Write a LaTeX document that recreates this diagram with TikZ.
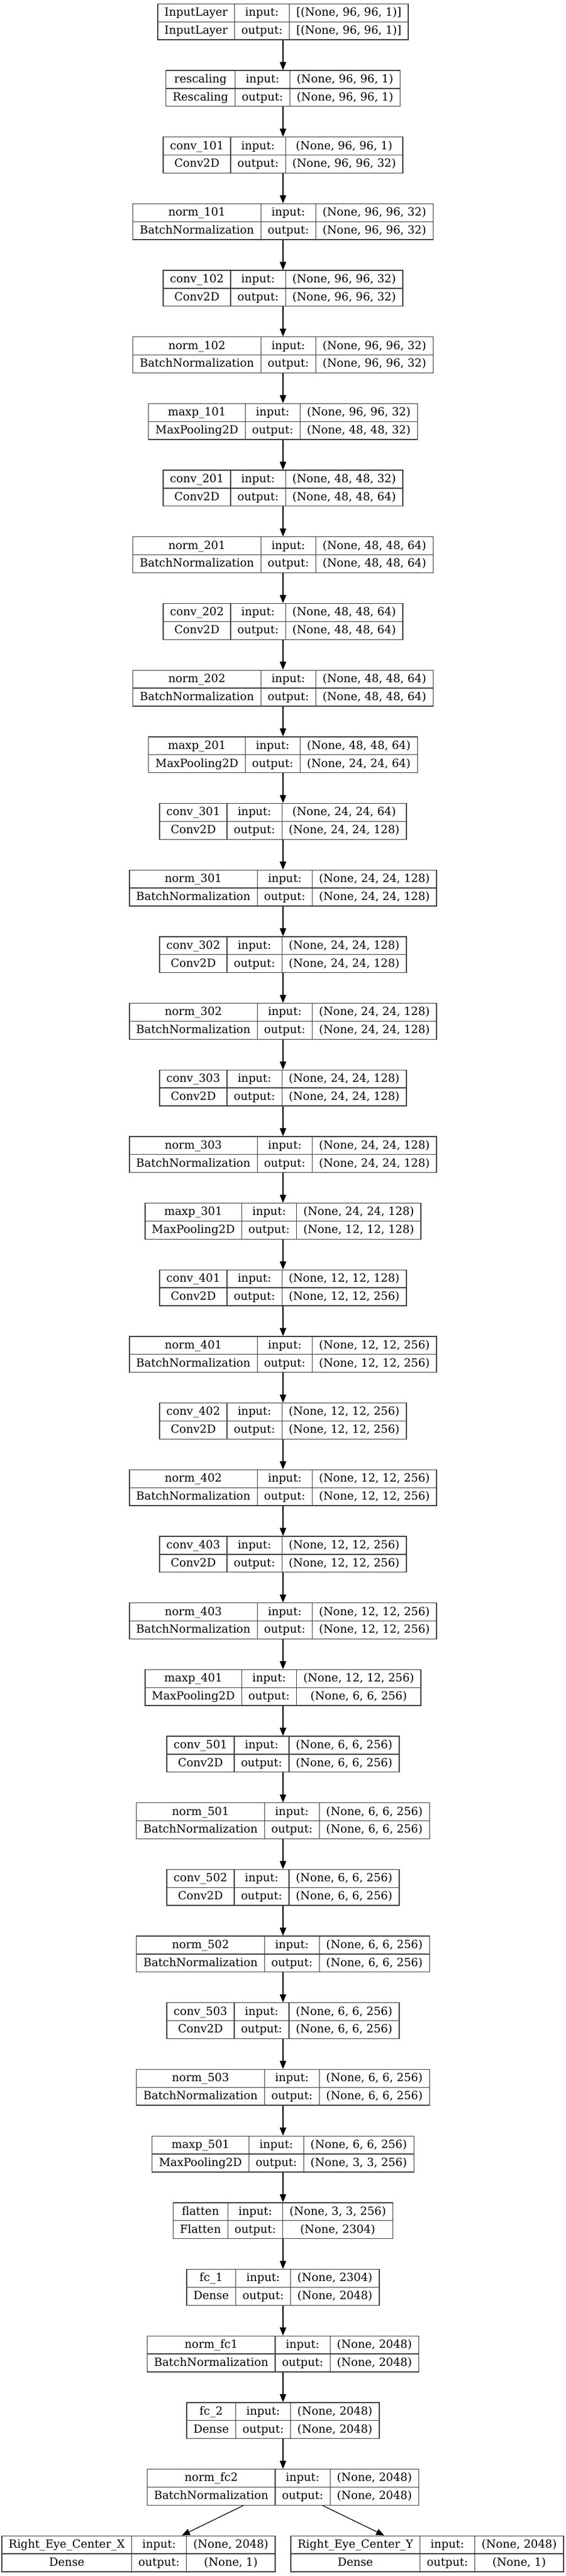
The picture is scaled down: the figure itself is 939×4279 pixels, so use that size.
\documentclass[tikz,border=0pt]{standalone}
\usepackage{fontspec}
\setmainfont{DejaVu Serif}
\usepackage{colortbl}
\usepackage{tikz}
\usetikzlibrary{arrows.meta,positioning}

\setlength{\arrayrulewidth}{1pt}
\arrayrulecolor{black!75}
\setlength{\tabcolsep}{8pt}
\renewcommand{\arraystretch}{0}
\newcommand{\rowstrut}{\rule[-6.64pt]{0pt}{21.375pt}}
\newcommand{\kerasbox}[4]{%
  \begin{tabular}{|c|c|c|}\hline
  \rowstrut #1 & input: & #3\\\hline
  \rowstrut #2 & output: & #4\\\hline
  \end{tabular}}

\begin{document}
\begin{tikzpicture}[x=0.75pt,y=0.75pt,->,>={Triangle[length=10pt,width=8pt]},line width=0.9pt,node distance=37.26pt,lbox/.style={inner sep=0pt,outer sep=0pt,font=\fontsize{14pt}{17pt}\selectfont}]
  \useasboundingbox (0,0) rectangle (939,-4279);
  \node[lbox,anchor=north] (input) at (470,-5.7) {\kerasbox{InputLayer}{InputLayer}{[(None, 96, 96, 1)]}{[(None, 96, 96, 1)]}};
  \node[lbox] (rescaling) [below=of input] {\kerasbox{rescaling}{Rescaling}{(None, 96, 96, 1)}{(None, 96, 96, 1)}};
  \node[lbox] (conv101) [below=of rescaling] {\kerasbox{conv\_101}{Conv2D}{(None, 96, 96, 1)}{(None, 96, 96, 32)}};
  \node[lbox] (norm101) [below=of conv101] {\kerasbox{norm\_101}{BatchNormalization}{(None, 96, 96, 32)}{(None, 96, 96, 32)}};
  \node[lbox] (conv102) [below=of norm101] {\kerasbox{conv\_102}{Conv2D}{(None, 96, 96, 32)}{(None, 96, 96, 32)}};
  \node[lbox] (norm102) [below=of conv102] {\kerasbox{norm\_102}{BatchNormalization}{(None, 96, 96, 32)}{(None, 96, 96, 32)}};
  \node[lbox] (maxp101) [below=of norm102] {\kerasbox{maxp\_101}{MaxPooling2D}{(None, 96, 96, 32)}{(None, 48, 48, 32)}};
  \node[lbox] (conv201) [below=of maxp101] {\kerasbox{conv\_201}{Conv2D}{(None, 48, 48, 32)}{(None, 48, 48, 64)}};
  \node[lbox] (norm201) [below=of conv201] {\kerasbox{norm\_201}{BatchNormalization}{(None, 48, 48, 64)}{(None, 48, 48, 64)}};
  \node[lbox] (conv202) [below=of norm201] {\kerasbox{conv\_202}{Conv2D}{(None, 48, 48, 64)}{(None, 48, 48, 64)}};
  \node[lbox] (norm202) [below=of conv202] {\kerasbox{norm\_202}{BatchNormalization}{(None, 48, 48, 64)}{(None, 48, 48, 64)}};
  \node[lbox] (maxp201) [below=of norm202] {\kerasbox{maxp\_201}{MaxPooling2D}{(None, 48, 48, 64)}{(None, 24, 24, 64)}};
  \node[lbox] (conv301) [below=of maxp201] {\kerasbox{conv\_301}{Conv2D}{(None, 24, 24, 64)}{(None, 24, 24, 128)}};
  \node[lbox] (norm301) [below=of conv301] {\kerasbox{norm\_301}{BatchNormalization}{(None, 24, 24, 128)}{(None, 24, 24, 128)}};
  \node[lbox] (conv302) [below=of norm301] {\kerasbox{conv\_302}{Conv2D}{(None, 24, 24, 128)}{(None, 24, 24, 128)}};
  \node[lbox] (norm302) [below=of conv302] {\kerasbox{norm\_302}{BatchNormalization}{(None, 24, 24, 128)}{(None, 24, 24, 128)}};
  \node[lbox] (conv303) [below=of norm302] {\kerasbox{conv\_303}{Conv2D}{(None, 24, 24, 128)}{(None, 24, 24, 128)}};
  \node[lbox] (norm303) [below=of conv303] {\kerasbox{norm\_303}{BatchNormalization}{(None, 24, 24, 128)}{(None, 24, 24, 128)}};
  \node[lbox] (maxp301) [below=of norm303] {\kerasbox{maxp\_301}{MaxPooling2D}{(None, 24, 24, 128)}{(None, 12, 12, 128)}};
  \node[lbox] (conv401) [below=of maxp301] {\kerasbox{conv\_401}{Conv2D}{(None, 12, 12, 128)}{(None, 12, 12, 256)}};
  \node[lbox] (norm401) [below=of conv401] {\kerasbox{norm\_401}{BatchNormalization}{(None, 12, 12, 256)}{(None, 12, 12, 256)}};
  \node[lbox] (conv402) [below=of norm401] {\kerasbox{conv\_402}{Conv2D}{(None, 12, 12, 256)}{(None, 12, 12, 256)}};
  \node[lbox] (norm402) [below=of conv402] {\kerasbox{norm\_402}{BatchNormalization}{(None, 12, 12, 256)}{(None, 12, 12, 256)}};
  \node[lbox] (conv403) [below=of norm402] {\kerasbox{conv\_403}{Conv2D}{(None, 12, 12, 256)}{(None, 12, 12, 256)}};
  \node[lbox] (norm403) [below=of conv403] {\kerasbox{norm\_403}{BatchNormalization}{(None, 12, 12, 256)}{(None, 12, 12, 256)}};
  \node[lbox] (maxp401) [below=of norm403] {\kerasbox{maxp\_401}{MaxPooling2D}{(None, 12, 12, 256)}{(None, 6, 6, 256)}};
  \node[lbox] (conv501) [below=of maxp401] {\kerasbox{conv\_501}{Conv2D}{(None, 6, 6, 256)}{(None, 6, 6, 256)}};
  \node[lbox] (norm501) [below=of conv501] {\kerasbox{norm\_501}{BatchNormalization}{(None, 6, 6, 256)}{(None, 6, 6, 256)}};
  \node[lbox] (conv502) [below=of norm501] {\kerasbox{conv\_502}{Conv2D}{(None, 6, 6, 256)}{(None, 6, 6, 256)}};
  \node[lbox] (norm502) [below=of conv502] {\kerasbox{norm\_502}{BatchNormalization}{(None, 6, 6, 256)}{(None, 6, 6, 256)}};
  \node[lbox] (conv503) [below=of norm502] {\kerasbox{conv\_503}{Conv2D}{(None, 6, 6, 256)}{(None, 6, 6, 256)}};
  \node[lbox] (norm503) [below=of conv503] {\kerasbox{norm\_503}{BatchNormalization}{(None, 6, 6, 256)}{(None, 6, 6, 256)}};
  \node[lbox] (maxp501) [below=of norm503] {\kerasbox{maxp\_501}{MaxPooling2D}{(None, 6, 6, 256)}{(None, 3, 3, 256)}};
  \node[lbox] (flatten) [below=of maxp501] {\kerasbox{flatten}{Flatten}{(None, 3, 3, 256)}{(None, 2304)}};
  \node[lbox] (fc1) [below=of flatten] {\kerasbox{fc\_1}{Dense}{(None, 2304)}{(None, 2048)}};
  \node[lbox] (normfc1) [below=of fc1] {\kerasbox{norm\_fc1}{BatchNormalization}{(None, 2048)}{(None, 2048)}};
  \node[lbox] (fc2) [below=of normfc1] {\kerasbox{fc\_2}{Dense}{(None, 2048)}{(None, 2048)}};
  \node[lbox] (normfc2) [below=of fc2] {\kerasbox{norm\_fc2}{BatchNormalization}{(None, 2048)}{(None, 2048)}};
  \node[lbox,anchor=north east] (eyex) at ([xshift=-9.2pt,yshift=-37.26pt]normfc2.south) {\kerasbox{Right\_Eye\_Center\_X}{Dense}{(None, 2048)}{(None, 1)}};
  \node[lbox,anchor=north west] (eyey) at ([xshift=9.2pt,yshift=-37.26pt]normfc2.south) {\kerasbox{Right\_Eye\_Center\_Y}{Dense}{(None, 2048)}{(None, 1)}};

  \path
  (input) edge (rescaling)
  (rescaling) edge (conv101)
  (conv101) edge (norm101)
  (norm101) edge (conv102)
  (conv102) edge (norm102)
  (norm102) edge (maxp101)
  (maxp101) edge (conv201)
  (conv201) edge (norm201)
  (norm201) edge (conv202)
  (conv202) edge (norm202)
  (norm202) edge (maxp201)
  (maxp201) edge (conv301)
  (conv301) edge (norm301)
  (norm301) edge (conv302)
  (conv302) edge (norm302)
  (norm302) edge (conv303)
  (conv303) edge (norm303)
  (norm303) edge (maxp301)
  (maxp301) edge (conv401)
  (conv401) edge (norm401)
  (norm401) edge (conv402)
  (conv402) edge (norm402)
  (norm402) edge (conv403)
  (conv403) edge (norm403)
  (norm403) edge (maxp401)
  (maxp401) edge (conv501)
  (conv501) edge (norm501)
  (norm501) edge (conv502)
  (conv502) edge (norm502)
  (norm502) edge (conv503)
  (conv503) edge (norm503)
  (norm503) edge (maxp501)
  (maxp501) edge (flatten)
  (flatten) edge (fc1)
  (fc1) edge (normfc1)
  (normfc1) edge (fc2)
  (fc2) edge (normfc2)
  ([xshift=-49.4pt]normfc2.south) edge ([xshift=54pt]eyex.north)
  ([xshift=49.4pt]normfc2.south) edge ([xshift=-53.5pt]eyey.north);
\end{tikzpicture}
\end{document}
